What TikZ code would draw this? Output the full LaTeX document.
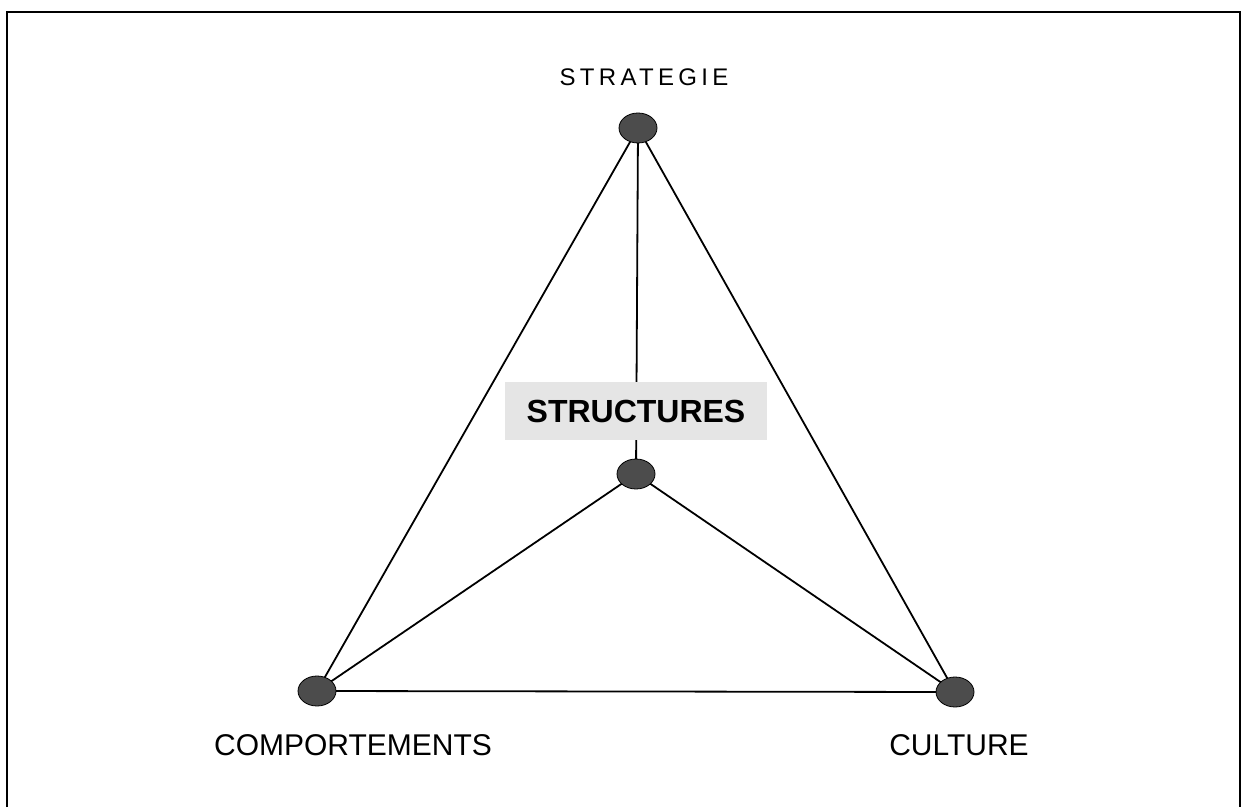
\documentclass[tikz,border=0pt]{standalone}
\usepackage{fontspec}
\setmainfont{Liberation Sans}
\usepackage{tikz}
\usetikzlibrary{shapes.geometric}
\tikzstyle{pole}=[draw=black, fill=black!70, ellipse, inner sep=0, outer sep=0, minimum width=19pt, minimum height=15pt]
\tikzstyle{polename}=[inner sep=0, font=\fontsize{15pt}{15pt}\selectfont]
\tikzstyle{link}=[line width=0.9pt]
\tikzstyle{diagram}=[x=0.5pt, y=-0.5pt,
                     % Frame open at the bottom, as in the scan.
                     execute at begin picture={\useasboundingbox (0, 0) rectangle (1245, 807);}]

\begin{document}
\begin{tikzpicture}[diagram]
        \draw[line width=0.7pt] (7, 807) -- (7, 12) -- (1240, 12) -- (1240, 807);
        \node[pole]                           (strat) at (638, 128) {};
        \node[pole]                           (struct) at (636, 474) {};
        \node[pole]                           (comp) at (317, 691) {};
        \node[pole]                           (cult) at (955, 692) {};
        \draw[link] (strat) -- (comp);
        \draw[link] (strat) -- (cult);
        \draw[link] (strat) -- (struct);
        \draw[link] (struct) -- (comp);
        \draw[link] (struct) -- (cult);
        \draw[link] (comp) -- (cult);
        \node[polename, font=\fontsize{12pt}{12pt}\selectfont\addfontfeature{LetterSpace=18}] (stratlabel) at (644, 77) {STRATEGIE};
        \node[polename, font=\fontsize{16pt}{16pt}\bfseries, fill=black!10, minimum width=131pt, minimum height=29pt] (structlabel) at (636, 411) {STRUCTURES};
        \node[polename] (complabel) at (353, 745) {COMPORTEMENTS};
        \node[polename] (cultlabel) at (959, 745) {CULTURE};
    \end{tikzpicture}
\end{document}
